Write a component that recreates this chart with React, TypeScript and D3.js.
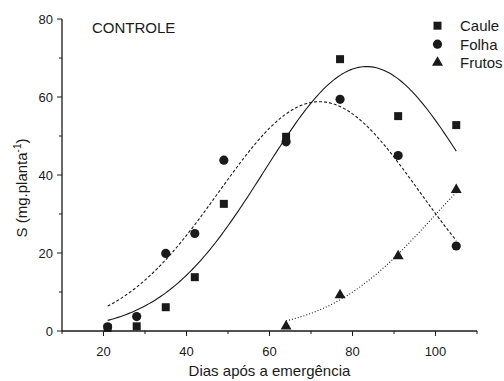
import React from "react";
import * as d3 from "d3";

const days = [21, 28, 35, 42, 49, 64, 77, 91, 105];
const caule = [0.8, 1.2, 6.1, 13.8, 32.6, 49.8, 69.7, 55.1, 52.8];
const folha = [1.1, 3.7, 19.9, 25.0, 43.8, 48.5, 59.4, 45.0, 21.8];
const frutosDays = [64, 77, 91, 105];
const frutos = [1.2, 9.2, 19.2, 36.2];

// Gaussian regression parameters: [a, x0, b, from, to]
const fitCaule = [67.8, 83.4, 24.6, 21, 105];
const fitFolha = [58.8, 72, 24.2, 21, 105];
const fitFrutos = [47.5, 124, 24.9, 64, 105];

const xMajor = [20, 40, 60, 80, 100];
const xMinor = [10, 30, 50, 70, 90, 110];
const yMajor = [0, 20, 40, 60, 80];
const yMinor = [10, 30, 50, 70];

const legendLabels = ["Caule", "Folha", "Frutos"];

const W = 504, H = 381;
const L = 62, R = 477, T = 19, B = 331;
const INK = "#1a1a1a";
const FONT = "'Liberation Sans', Arial, sans-serif";

export default function App() {
  const x = d3.scaleLinear().domain([10, 110]).range([L, R]);
  const y = d3.scaleLinear().domain([0, 80]).range([B, T]);

  const curvePath = (p: number[]) => {
    const [a, x0, b, from, to] = p;
    const xs = d3.range(from, to + 0.001, 0.5);
    const line = d3
      .line<number>()
      .x((d) => x(d))
      .y((d) => y(a * Math.exp(-0.5 * ((d - x0) / b) ** 2)));
    return line(xs) || "";
  };

  const sq = d3.symbol().type(d3.symbolSquare).size(64)() || "";
  const ci = d3.symbol().type(d3.symbolCircle).size(66)() || "";
  const tr = d3.symbol().type(d3.symbolTriangle).size(52)() || "";
  const shapes = [sq, ci, tr];

  return (
    <svg
      width={W}
      height={H}
      style={{ position: "absolute", left: 0, top: 0, background: "#fff" }}
      fontFamily={FONT}
    >
      {/* curves */}
      <path d={curvePath(fitCaule)} fill="none" stroke={INK} strokeWidth={1.1} />
      <path d={curvePath(fitFolha)} fill="none" stroke={INK} strokeWidth={1.1} strokeDasharray="3,2" />
      <path d={curvePath(fitFrutos)} fill="none" stroke={INK} strokeWidth={1.1} strokeDasharray="1,2" />

      {/* points */}
      {days.map((d, i) => (
        <path key={"c" + i} d={sq} transform={`translate(${x(d)},${y(caule[i])})`} fill={INK} />
      ))}
      {days.map((d, i) => (
        <path key={"f" + i} d={ci} transform={`translate(${x(d)},${y(folha[i])})`} fill={INK} />
      ))}
      {frutosDays.map((d, i) => (
        <path key={"t" + i} d={tr} transform={`translate(${x(d)},${y(frutos[i])})`} fill={INK} />
      ))}

      {/* axes */}
      <line x1={L} x2={L} y1={T} y2={B} stroke={INK} strokeWidth={1.3} />
      <line x1={L} x2={R} y1={B} y2={B} stroke={INK} strokeWidth={1.3} />
      {yMajor.map((v) => (
        <g key={"ym" + v}>
          <line x1={L - 5} x2={L} y1={y(v)} y2={y(v)} stroke={INK} strokeWidth={1} />
          <text x={L - 9} y={y(v) + 4.5} textAnchor="end" fontSize={13} fill={INK}>
            {v}
          </text>
        </g>
      ))}
      {yMinor.map((v) => (
        <line key={"yn" + v} x1={L - 3} x2={L} y1={y(v)} y2={y(v)} stroke={INK} strokeWidth={1} />
      ))}
      {xMajor.map((v) => (
        <g key={"xm" + v}>
          <line x1={x(v)} x2={x(v)} y1={B} y2={B + 5} stroke={INK} strokeWidth={1} />
          <text x={x(v)} y={B + 25} textAnchor="middle" fontSize={13} fill={INK}>
            {v}
          </text>
        </g>
      ))}
      {xMinor.map((v) => (
        <line key={"xn" + v} x1={x(v)} x2={x(v)} y1={B} y2={B + 3} stroke={INK} strokeWidth={1} />
      ))}

      {/* axis titles */}
      <text x={(L + R) / 2} y={376} textAnchor="middle" fontSize={15} fill={INK}>
        Dias após a emergência
      </text>
      <text
        transform={`translate(27,188) rotate(-90)`}
        textAnchor="middle"
        fontSize={15}
        fill={INK}
      >
        S (mg.planta
        <tspan fontSize={10} dy={-6}>-1</tspan>
        <tspan dy={6}>)</tspan>
      </text>

      {/* title */}
      <text x={92} y={32.5} fontSize={15} fill={INK}>
        CONTROLE
      </text>

      {/* legend */}
      {legendLabels.map((lab, i) => {
        const ly = 25.7 + i * 18.5;
        return (
          <g key={lab}>
            <path d={shapes[i]} transform={`translate(437.5,${ly})`} fill={INK} />
            <text x={460} y={ly + 5.3} fontSize={15} fill={INK}>
              {lab}
            </text>
          </g>
        );
      })}
    </svg>
  );
}
